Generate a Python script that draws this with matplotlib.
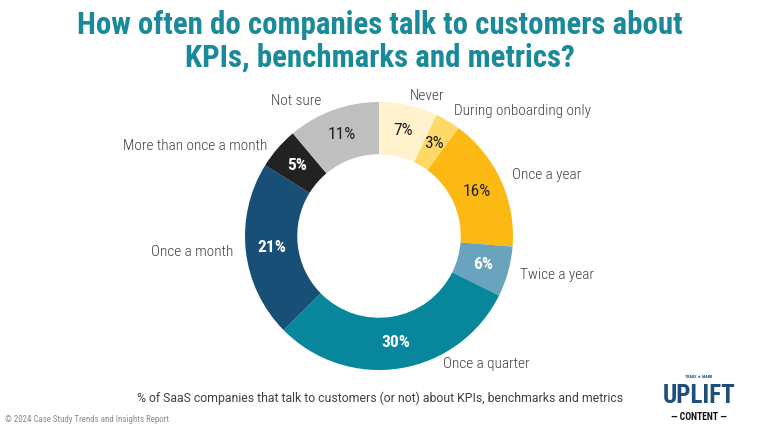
import matplotlib
matplotlib.use("Agg")
import matplotlib.pyplot as plt
import matplotlib.font_manager as fm
import numpy as np

categories = ["Never", "During onboarding only", "Once a year", "Twice a year",
              "Once a quarter", "Once a month", "More than once a month", "Not sure"]
values = [7, 3, 16, 6, 30, 21, 5, 11]
colors = ["#FFF2CC", "#FFD966", "#FDB913", "#6AA3BD", "#08879C", "#174F77", "#222222", "#BFBFBF"]
pct_colors = ["#222222", "#222222", "#222222", "#FFFFFF", "#FFFFFF", "#FFFFFF", "#FFFFFF", "#222222"]

title = "How often do companies talk to customers about\nKPIs, benchmarks and metrics?"
subtitle = "% of SaaS companies that talk to customers (or not) about KPIs, benchmarks and metrics"
footer = "\u00a9 2024 Case Study Trends and Insights Report"

names = {f.name for f in fm.fontManager.ttflist}
def pick(*cands):
    for c in cands:
        if c in names:
            return c
    return "DejaVu Sans"
cond = pick("Roboto Condensed", "Barlow Semi Condensed", "DejaVu Sans Condensed",
            "Liberation Sans Narrow", "Roboto")
plain = pick("Roboto", "Inter", "DejaVu Sans")

W, H = 760, 428
fig = plt.figure(figsize=(W / 100, H / 100), dpi=100)
cx, cy, R = 379, 236, 134
ax = fig.add_axes([(cx - R) / W, (H - cy - R) / H, 2 * R / W, 2 * R / H])

wedges, texts, autotexts = ax.pie(
    values, labels=categories, colors=colors, startangle=90, counterclock=False,
    radius=1.0, wedgeprops=dict(width=0.39, linewidth=0),
    autopct=lambda p: f"{round(p * sum(values) / 100):.0f}%", pctdistance=0.805,
    labeldistance=1.09,
    textprops=dict(fontsize=11, color="#404040", family=cond, fontweight="light"))
ax.set_xlim(-1, 1)
ax.set_ylim(-1, 1)
ax.set_aspect("equal")
ax.axis("off")

for t, c in zip(autotexts, pct_colors):
    t.set_color(c)
    t.set_fontsize(12.5)
    t.set_fontweight("bold" if c == "#FFFFFF" else "normal")
    t.set_family(cond)

# reposition labels that the reference places off the mid-angle
texts[4].set_position((0.48, -0.955))
texts[4].set_ha("left")
texts[0].set_position((0.36, 1.045))
texts[0].set_ha("center")
texts[6].set_position((-0.83, 0.67))
texts[7].set_position((-0.43, 1.005))

# title fit to width
tt = fig.text(0.5, 1 - 41 / H, title, ha="center", va="center", fontsize=20,
              color="#1A8A9B", fontweight="bold", family=cond, linespacing=1.1)
fig.canvas.draw()
bb = tt.get_window_extent()
tt.set_fontsize(20 * 604 / bb.width)

fig.text(380 / W, 1 - 398 / H, subtitle, ha="center", va="center", fontsize=8.8,
         color="#404040", family=plain)
fig.text(5 / W, 1 - 419 / H, footer, ha="left", va="center", fontsize=6.4,
         color="#8C8C8C", family=cond)

# logo
fig.text(699 / W, 1 - 377 / H, "TRADE \u2605 MARK", ha="center", va="center",
         fontsize=3, color="#1D4F7A", family=[cond, "DejaVu Sans"], fontweight="bold")
fig.text(699 / W, 1 - 396 / H, "UPLIFT", ha="center", va="center", fontsize=18,
         color="#1D4F7A", family=cond, fontweight="bold")
fig.text(699 / W, 1 - 417 / H, "\u2014 CONTENT \u2014", ha="center", va="center",
         fontsize=7, color="#111111", family=cond, fontweight="bold")

fig.savefig("out.png", dpi=100, facecolor="white")
